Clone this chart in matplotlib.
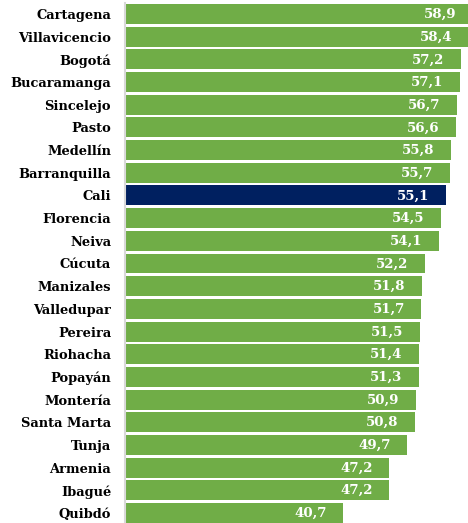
import matplotlib
matplotlib.use("Agg")
import matplotlib.pyplot as plt

cities = ["Cartagena", "Villavicencio", "Bogotá", "Bucaramanga", "Sincelejo", "Pasto",
          "Medellín", "Barranquilla", "Cali", "Florencia", "Neiva", "Cúcuta", "Manizales",
          "Valledupar", "Pereira", "Riohacha", "Popayán", "Montería", "Santa Marta",
          "Tunja", "Armenia", "Ibagué", "Quibdó"]
values = [58.9, 58.4, 57.2, 57.1, 56.7, 56.6, 55.8, 55.7, 55.1, 54.5, 54.1, 52.2, 51.8,
          51.7, 51.5, 51.4, 51.3, 50.9, 50.8, 49.7, 47.2, 47.2, 40.7]
highlight = "Cali"

GREEN = "#70AD47"
NAVY = "#002060"
FONT = "DejaVu Serif"

W, H = 468, 523
fig = plt.figure(figsize=(W / 100, H / 100), dpi=100)
# axes extends past the right edge of the image (bars clipped like the reference)
ax = fig.add_axes([125 / W, -1.3 / H, 355.5 / W, 521.6 / H])

colors = [NAVY if c == highlight else GREEN for c in cities]
y = list(range(len(cities)))
ax.barh(y, values, height=0.88, color=colors, left=0)
ax.set_xlim(10, 60)
ax.set_ylim(len(cities) - 0.5, -0.5)

for yi, v in zip(y, values):
    ax.annotate(f"{v:.1f}".replace(".", ","), xy=(v, yi),
                xytext=(-12, -0.3), textcoords="offset points",
                ha="right", va="center", color="white", fontsize=9.6,
                fontweight="bold", family=FONT)

ax.set_yticks(y)
ax.set_yticklabels(cities, fontsize=9.4, fontweight="bold", family=FONT)
ax.tick_params(axis="y", length=0, pad=10)
ax.set_xticks([])
for s in ["top", "right", "bottom"]:
    ax.spines[s].set_visible(False)
ax.spines["left"].set_color("#d9d9d9")
ax.spines["left"].set_linewidth(1.5)

fig.savefig("out.png", dpi=100)
